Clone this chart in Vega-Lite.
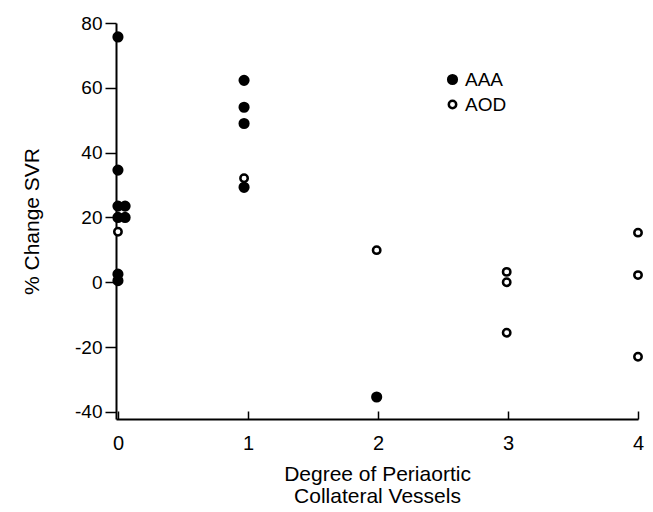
{
  "$schema": "https://vega.github.io/schema/vega-lite/v6.json",
  "autosize": "none",
  "width": 522,
  "height": 396,
  "padding": {"left": 116, "top": 23, "right": 15, "bottom": 93},
  "background": "white",
  "config": {
    "view": {"stroke": null},
    "font": "Liberation Sans",
    "axis": {"grid": false, "domainColor": "black", "domainWidth": 2, "tickColor": "black", "tickWidth": 1.5, "labelColor": "black", "titleColor": "black", "labelFont": "Liberation Sans", "titleFont": "Liberation Sans", "titleFontWeight": "normal"}
  },
  "data": {"values": [
    {"group": "AAA", "x": 0, "y": 75.7},
    {"group": "AAA", "x": 0, "y": 34.6},
    {"group": "AAA", "x": 0, "y": 23.5},
    {"group": "AAA", "x": 0.055, "y": 23.5},
    {"group": "AAA", "x": 0, "y": 20},
    {"group": "AAA", "x": 0.055, "y": 20},
    {"group": "AAA", "x": 0, "y": 2.5},
    {"group": "AAA", "x": 0, "y": 0.5},
    {"group": "AAA", "x": 0.97, "y": 62.3},
    {"group": "AAA", "x": 0.97, "y": 54},
    {"group": "AAA", "x": 0.97, "y": 49},
    {"group": "AAA", "x": 0.97, "y": 29.3},
    {"group": "AAA", "x": 1.99, "y": -35.4},
    {"group": "AOD", "x": 0, "y": 15.6},
    {"group": "AOD", "x": 0.97, "y": 32.1},
    {"group": "AOD", "x": 1.99, "y": 9.9},
    {"group": "AOD", "x": 2.99, "y": 3.2},
    {"group": "AOD", "x": 2.99, "y": 0},
    {"group": "AOD", "x": 2.99, "y": -15.6},
    {"group": "AOD", "x": 4.0, "y": 15.3},
    {"group": "AOD", "x": 4.0, "y": 2.2},
    {"group": "AOD", "x": 4.0, "y": -23}
  ]},
  "mark": {"type": "point", "shape": "circle", "strokeWidth": 2.5, "opacity": 1, "clip": false},
  "encoding": {
    "x": {
      "field": "x", "type": "quantitative",
      "scale": {"domain": [-0.015, 4], "nice": false, "zero": false},
      "axis": {"values": [0, 1, 2, 3, 4], "format": "d", "tickSize": -8, "labelPadding": 22, "labelFontSize": 20, "labelFlush": false,
        "title": ["Degree of Periaortic", "Collateral Vessels"], "titleFontSize": 21, "titlePadding": 10, "titleLineHeight": 22}
    },
    "y": {
      "field": "y", "type": "quantitative",
      "scale": {"domain": [-42.2, 80], "nice": false, "zero": false},
      "axis": {"values": [-40, -20, 0, 20, 40, 60, 80], "labelExpr": "'' + datum.value", "tickSize": 11, "labelPadding": 3, "labelFontSize": 19, "labelFlush": false,
        "title": "% Change SVR", "titleFontSize": 21, "titlePadding": 32}
    },
    "fill": {
      "field": "group", "type": "nominal",
      "scale": {"domain": ["AAA", "AOD"], "range": ["black", "white"]},
      "legend": {"title": null, "orient": "none", "legendX": 327, "legendY": 47, "labelFontSize": 19, "labelColor": "black", "labelFont": "Liberation Sans", "symbolStrokeWidth": 2.5, "labelOffset": 3, "rowPadding": 5}
    },
    "stroke": {
      "field": "group", "type": "nominal",
      "scale": {"domain": ["AAA", "AOD"], "range": ["black", "black"]},
      "legend": {"title": null, "orient": "none", "legendX": 327, "legendY": 47, "labelFontSize": 19, "labelColor": "black", "labelFont": "Liberation Sans", "symbolStrokeWidth": 2.5, "labelOffset": 3, "rowPadding": 5}
    },
    "size": {
      "field": "group", "type": "nominal",
      "scale": {"domain": ["AAA", "AOD"], "range": [75, 55]},
      "legend": {"title": null, "orient": "none", "legendX": 327, "legendY": 47, "labelFontSize": 19, "labelColor": "black", "labelFont": "Liberation Sans", "symbolStrokeWidth": 2.5, "labelOffset": 3, "rowPadding": 5}
    }
  }
}
